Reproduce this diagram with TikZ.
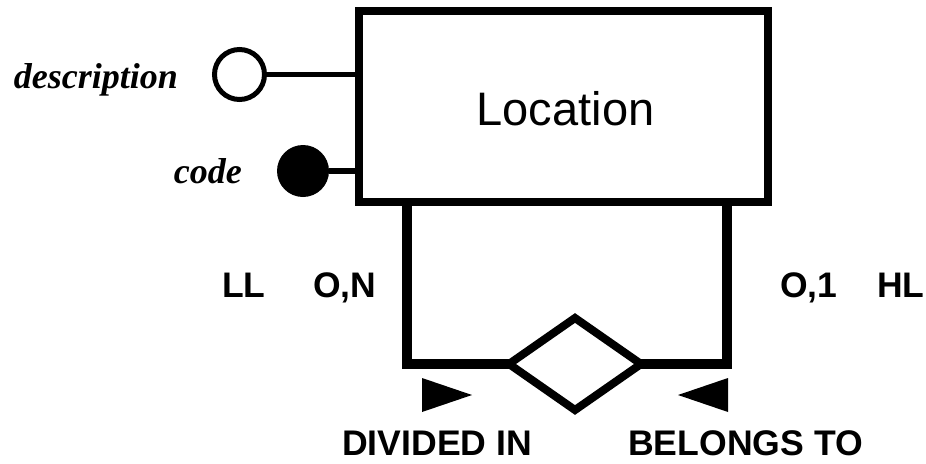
\documentclass[tikz,border=0pt]{standalone}
\usepackage{fontspec}
\setmainfont{Liberation Serif}
\newfontfamily\arial{Liberation Sans}
\usetikzlibrary{shapes.geometric}
\begin{document}
\begin{tikzpicture}[x=1pt,y=-1pt,
  entitybox/.style={draw,line width=8pt,rectangle,minimum width=409pt,minimum height=191pt,inner sep=0pt,outer sep=0pt},
  relbox/.style={draw,line width=8pt,diamond,minimum width=132pt,minimum height=92pt,inner sep=0pt,outer sep=0pt,aspect=1.43},
  attropen/.style={draw,line width=5pt,circle,minimum size=50pt,inner sep=0pt,fill=white},
  attrkey/.style={fill,circle,minimum size=52pt,inner sep=0pt},
  attrline/.style={line width=5.5pt},
  relline/.style={line width=10pt,line join=miter},
  attrlabel/.style={font=\fontsize{36}{40}\selectfont\bfseries\itshape,inner sep=0pt,anchor=base east},
  cardlabel/.style={font=\arial\fontsize{35.5}{40}\selectfont\bfseries,inner sep=0pt,anchor=base west},
  rolelabel/.style={font=\arial\fontsize{35.6}{40}\selectfont\bfseries,inner sep=0pt,anchor=base west},
  dirmark/.style={fill=black}
]
\useasboundingbox (0,0) rectangle (926,463);
% entity
\node[entitybox] (box) at (563.5,106.5) {};
\node[font=\arial\fontsize{47}{52}\selectfont,inner sep=0pt,anchor=base] (loc) at (565.5,125) {Location};
% attributes
\node[attropen] (desc) at (239.5,74.5) {};
\node[attrkey] (code) at (303,171) {};
\draw[attrline] (desc.east) -- (box.west |- desc.east);
\draw[attrline] (code.east) -- (box.west |- code.east);
\node[attrlabel] (desclbl) at (178,88) {description};
\node[attrlabel] (codelbl) at (242,183) {code};
% relationship
\node[relbox] (dia) at (575,364) {};
\coordinate (lt) at (407,202);
\coordinate (rt) at (727,202);
\draw[relline] (lt) |- (dia.west);
\draw[relline] (rt) |- (dia.east);
% cardinalities
\node[cardlabel] (ll) at (222,297) {LL};
\node[cardlabel] (on) at (313,297) {O,N};
\node[cardlabel] (o1) at (780,297) {O,1};
\node[cardlabel] (hl) at (877,297) {HL};
% direction marks
\fill[dirmark] (422,378) -- (472,395) -- (422,412) -- cycle;
\fill[dirmark] (728,378) -- (678,395) -- (728,412) -- cycle;
% role labels
\node[rolelabel] (div) at (342,455) {DIVIDED IN};
\node[rolelabel] (bel) at (628,455) {BELONGS TO};
\end{tikzpicture}
\end{document}
